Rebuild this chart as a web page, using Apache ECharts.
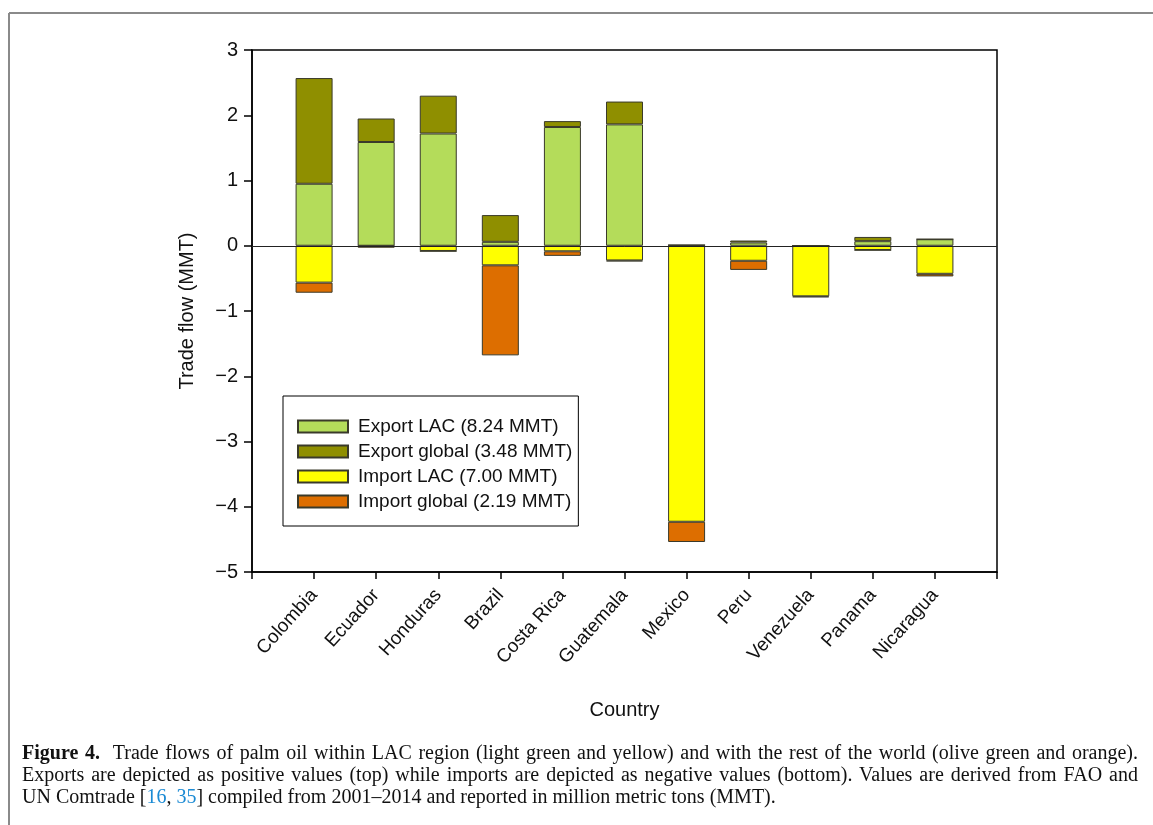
<!DOCTYPE html>
<html>
<head>
<meta charset="utf-8">
<script src="https://cdn.jsdelivr.net/npm/echarts@6/dist/echarts.min.js"></script>
<style>
  html, body { margin: 0; padding: 0; background: #fff; }
  #chart { position: absolute; left: 0; top: 0; width: 1153px; height: 825px; }
  #caption { position: absolute; left: 22px; top: 741px; width: 1116px;
    font-family: "Liberation Serif", "DejaVu Serif", serif; font-size: 20px; line-height: 22px; color: #111; }
  #caption .j { text-align: justify; text-align-last: justify; white-space: nowrap; }
  #caption .l { text-align: left; white-space: nowrap; }
  #caption .ref { color: #1a8ad4; }
</style>
</head>
<body>
<div id="chart"></div>
<div id="caption">
  <div class="j"><b>Figure 4.</b>&nbsp; Trade flows of palm oil within LAC region (light green and yellow) and with the rest of the world (olive green and orange).</div>
  <div class="j">Exports are depicted as positive values (top) while imports are depicted as negative values (bottom). Values are derived from FAO and</div>
  <div class="l">UN Comtrade [<span class="ref">16</span>, <span class="ref">35</span>] compiled from 2001–2014 and reported in million metric tons (MMT).</div>
</div>
<script>
const countries = ['Colombia', 'Ecuador', 'Honduras', 'Brazil', 'Costa Rica', 'Guatemala', 'Mexico', 'Peru', 'Venezuela', 'Panama', 'Nicaragua'];
const exportLAC    = [0.95, 1.59, 1.72, 0.06, 1.82, 1.86, 0.01, 0.05, 0.00, 0.07, 0.10];
const exportGlobal = [1.62, 0.36, 0.58, 0.41, 0.09, 0.35, 0.00, 0.03, 0.00, 0.065, 0.00];
const importLAC    = [-0.565, -0.005, -0.08, -0.30, -0.085, -0.225, -4.23, -0.23, -0.775, -0.065, -0.43];
const importGlobal = [-0.155, -0.025, -0.005, -1.38, -0.07, -0.015, -0.31, -0.14, -0.015, -0.005, -0.04];
const seriesNames = ['Export LAC (8.24 MMT)', 'Export global (3.48 MMT)', 'Import LAC (7.00 MMT)', 'Import global (2.19 MMT)'];
const yTicks = [-5, -4, -3, -2, -1, 0, 1, 2, 3];

const categories = [''].concat(countries, ['']);
const pad = arr => [null].concat(arr, [null]);
const colors = ['#b4dc5a', '#8f8f00', '#ffff00', '#dd6e00'];
const values = [exportLAC, exportGlobal, importLAC, importGlobal];

const chart = echarts.init(document.getElementById('chart'));
const font = 'Liberation Sans, Arial, Helvetica, sans-serif';

const series = values.map((v, i) => ({
  name: seriesNames[i],
  type: 'bar',
  stack: 'trade',
  barWidth: 37,
  data: pad(v),
  itemStyle: { color: colors[i], borderColor: '#3a3a2a', borderWidth: 1 },
  emphasis: { disabled: true },
  animation: false
}));
series[0].markLine = {
  silent: true, symbol: 'none', label: { show: false },
  lineStyle: { color: '#222', width: 1, type: 'solid' },
  data: [{ yAxis: 0 }]
};

chart.setOption({
  animation: false,
  textStyle: { fontFamily: font },
  grid: { left: 252, right: 156, top: 50, bottom: 253, show: true, borderColor: '#000', borderWidth: 1.5, backgroundColor: 'transparent' },
  legend: {
    orient: 'vertical', left: 283, top: 396,
    padding: [21, 6, 15, 14], itemGap: 6,
    itemWidth: 50, itemHeight: 12,
    borderColor: '#000', borderWidth: 1,
    icon: 'rect',
    textStyle: { fontFamily: font, fontSize: 19, color: '#111', padding: [0, 0, 0, 5] },
    data: seriesNames
  },
  xAxis: {
    type: 'category', data: categories, boundaryGap: false,
    name: 'Country', nameLocation: 'middle', nameGap: 128,
    nameTextStyle: { fontFamily: font, fontSize: 20, color: '#111' },
    axisLine: { onZero: false, lineStyle: { color: '#000', width: 1.5 } },
    axisTick: { show: true, length: 7, interval: 0, lineStyle: { color: '#000', width: 1.5 } },
    axisLabel: { rotate: 48, interval: 0, margin: 20, fontSize: 19, color: '#111', fontFamily: font },
    splitLine: { show: false }
  },
  yAxis: {
    type: 'value', min: -5, max: 3, interval: 1,
    name: 'Trade flow (MMT)', nameLocation: 'middle', nameGap: 55, nameRotate: 90,
    nameTextStyle: { fontFamily: font, fontSize: 20, color: '#111' },
    axisLine: { show: true, lineStyle: { color: '#000', width: 1.5 } },
    axisTick: { show: true, length: 8, lineStyle: { color: '#000', width: 1.5 } },
    axisLabel: { fontSize: 20, color: '#111', margin: 14, fontFamily: font,
      formatter: v => (yTicks.indexOf(v) >= 0 ? (v < 0 ? '\u2212' + Math.abs(v) : String(v)) : '') },
    splitLine: { show: false }
  },
  graphic: [
    { type: 'line', silent: true, shape: { x1: 9, y1: 13, x2: 1153, y2: 13 }, style: { stroke: '#8a8a8a', lineWidth: 2 } },
    { type: 'line', silent: true, shape: { x1: 9, y1: 13, x2: 9, y2: 825 }, style: { stroke: '#8a8a8a', lineWidth: 2 } }
  ],
  series: series
});
</script>
</body>
</html>
